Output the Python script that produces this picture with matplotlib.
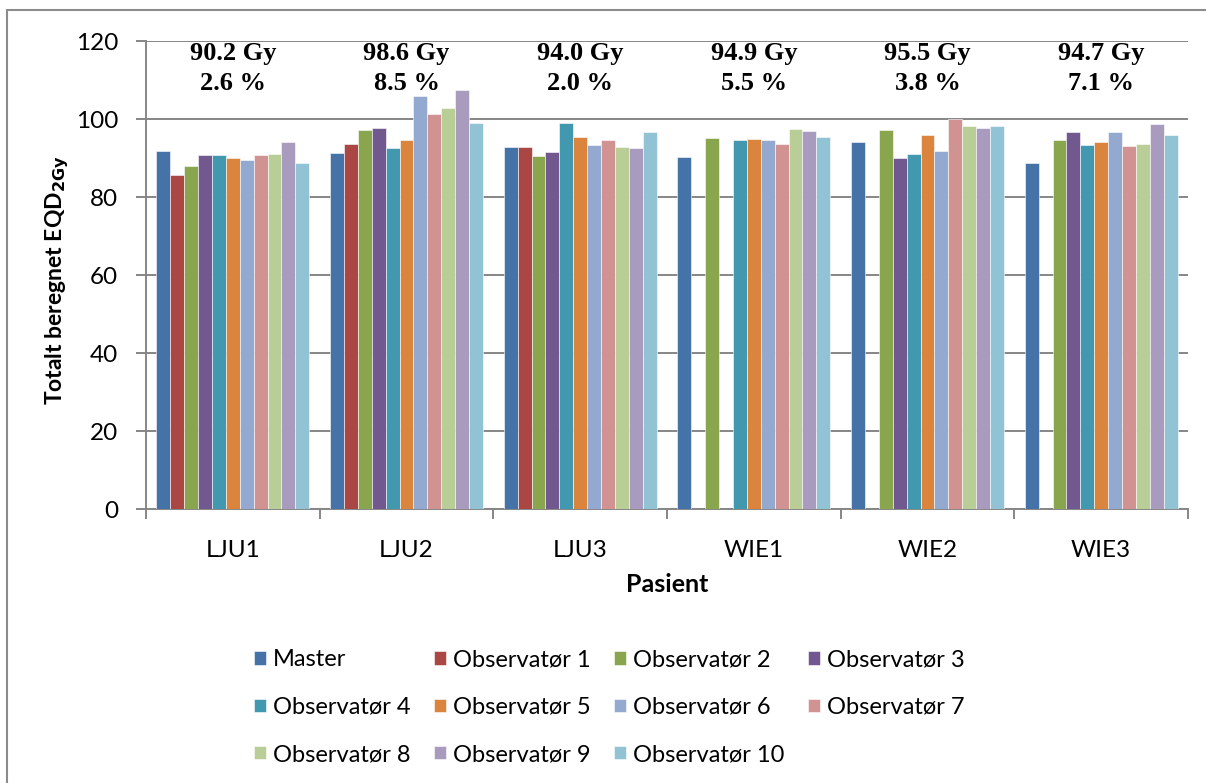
import numpy as np
import matplotlib.pyplot as plt
from matplotlib.patches import Rectangle

plt.rcParams['font.family'] = ['Lato', 'DejaVu Sans']

# patients on the x axis
patients = ['LJU1', 'LJU2', 'LJU3', 'WIE1', 'WIE2', 'WIE3']

series_names = ['Master', 'Observatør 1', 'Observatør 2', 'Observatør 3',
                'Observatør 4', 'Observatør 5', 'Observatør 6', 'Observatør 7',
                'Observatør 8', 'Observatør 9', 'Observatør 10']

# total EQD2Gy per patient (columns follow series_names), nan = no value
master = [91.9, 91.4, 92.9, 90.2, 94.2, 88.8]
obs1 = [85.7, 93.6, 92.9, np.nan, np.nan, np.nan]
obs2 = [88.0, 97.3, 90.5, 95.2, 97.2, 94.7]
obs3 = [90.7, 97.7, 91.6, np.nan, 90.1, 96.6]
obs4 = [90.7, 92.6, 99.0, 94.6, 91.0, 93.4]
obs5 = [90.0, 94.7, 95.5, 94.9, 96.0, 94.1]
obs6 = [89.6, 105.9, 93.4, 94.7, 91.8, 96.6]
obs7 = [90.7, 101.3, 94.6, 93.6, 99.9, 93.2]
obs8 = [91.0, 102.8, 92.9, 97.5, 98.2, 93.6]
obs9 = [94.2, 107.5, 92.5, 97.0, 97.8, 98.6]
obs10 = [88.7, 99.1, 96.6, 95.4, 98.3, 95.9]
all_series = [master, obs1, obs2, obs3, obs4, obs5, obs6, obs7, obs8, obs9, obs10]

# summary text above each patient
mean_dose = ['90.2 Gy', '98.6 Gy', '94.0 Gy', '94.9 Gy', '95.5 Gy', '94.7 Gy']
spread_pct = ['2.6 %', '8.5 %', '2.0 %', '5.5 %', '3.8 %', '7.1 %']

colors = ['#4572A7', '#AA4643', '#89A54E', '#71588F', '#4198AF', '#DB843D',
          '#93A9CF', '#D19392', '#B9CD96', '#A99BBD', '#92C3D5']

fig = plt.figure(figsize=(12.06, 7.83), dpi=100)
ax = fig.add_axes([146/1206, 1 - 509/783, (1188 - 146)/1206, (509 - 41)/783])

# outer chart frame
fig.patches.append(Rectangle((7/1206, -0.2), 1.2, 1.2 - 10/783, transform=fig.transFigure,
                             fill=False, edgecolor='#8c8c8c', linewidth=1.5))

x = np.arange(len(patients))
width = 1 / 12.5
for i, (vals, name) in enumerate(zip(all_series, series_names)):
    offs = (i - 5) * width
    ax.bar(x + offs, vals, width, color=colors[i], label=name,
           edgecolor='white', linewidth=0.4, zorder=3)

ax.set_ylim(0, 120)
ax.set_xlim(-0.5, len(patients) - 0.5)
ax.set_yticks(range(0, 121, 20))
ax.yaxis.grid(True, color='#868686', linewidth=1.4, zorder=0)
for s in ['top', 'right']:
    ax.spines[s].set_visible(False)
for s in ['left', 'bottom']:
    ax.spines[s].set_color('#868686')
    ax.spines[s].set_linewidth(1.4)

ax.set_xticks(np.arange(-0.5, len(patients)), labels=[])
ax.set_xticks(x, labels=patients, minor=True)
ax.tick_params(axis='x', which='major', length=7, width=1.4, color='#868686')
ax.tick_params(axis='x', which='minor', length=0, labelsize=17.5, pad=22)
ax.tick_params(axis='y', length=7, width=1.4, color='#868686', labelsize=17.5, pad=13)

ax.set_xlabel('Pasient', fontsize=18, fontweight='bold', va='center')
ax.set_ylabel('Totalt beregnet EQD$_{\\mathbf{2Gy}}$', fontsize=16.5, fontweight='bold',
              va='center')
ax.xaxis.set_label_coords(0.5, -(585 - 509) / 468)
ax.yaxis.set_label_coords(-(146 - 57) / 1042, 0.49)

for xi, dose, pct in zip(x, mean_dose, spread_pct):
    ax.text(xi, 116.9, dose, ha='center', va='center', fontsize=19,
            fontweight='bold', family='Liberation Serif', zorder=4)
    ax.text(xi, 109.2, pct, ha='center', va='center', fontsize=19,
            fontweight='bold', family='Liberation Serif', zorder=4)

# legend filled row by row, four per row
handles, labels = ax.get_legend_handles_labels()
order = [0, 4, 8, 1, 5, 9, 2, 6, 10, 3, 7]
fig.legend([handles[k] for k in order], [labels[k] for k in order],
           ncol=4, loc='upper left', bbox_to_anchor=(233/1206, 1 - 628/783),
           frameon=False, fontsize=17, handlelength=0.5, handleheight=0.5,
           handletextpad=0.3, columnspacing=1.0, labelspacing=1.12)

fig.savefig('out.png', dpi=100)
